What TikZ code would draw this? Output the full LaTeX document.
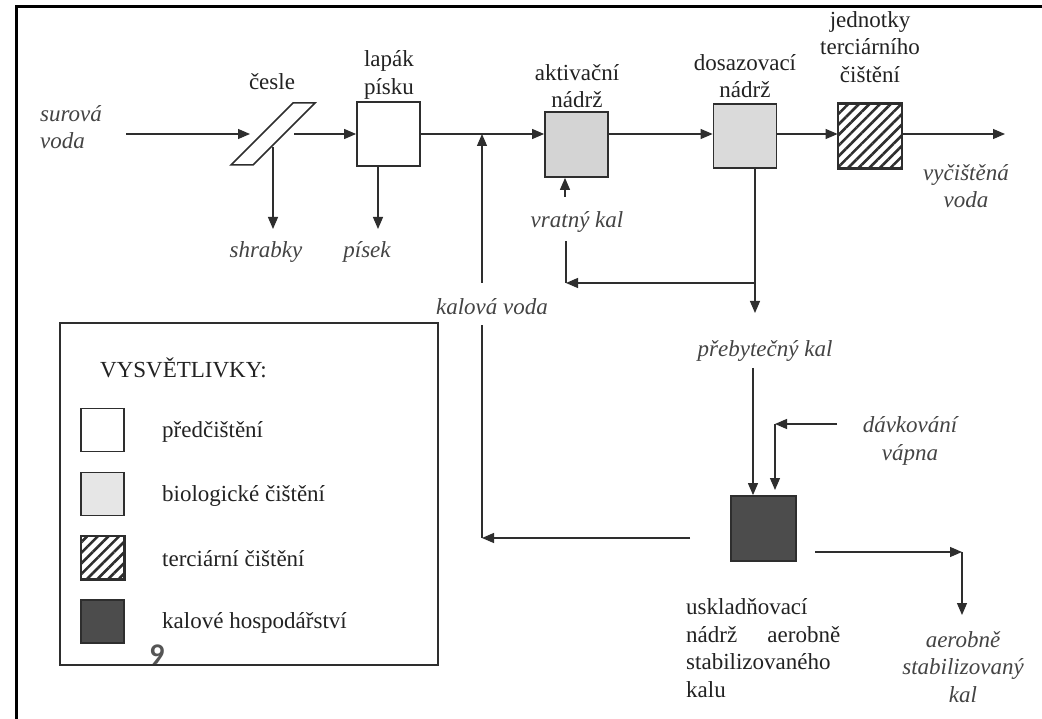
\documentclass[tikz,border=0pt]{standalone}
\usepackage{fontspec}
\setmainfont{Liberation Serif}
\newfontfamily\numfont{Carlito}
\usetikzlibrary{arrows.meta,patterns.meta}
\definecolor{linec}{HTML}{2E2E2E}
\definecolor{txtc}{HTML}{222222}
\definecolor{itc}{HTML}{444444}
\definecolor{biofill}{HTML}{D4D4D4}
\definecolor{biolight}{HTML}{E6E6E6}
\definecolor{sludge}{HTML}{4C4C4C}
\definecolor{numc}{HTML}{555555}
\begin{document}
\begin{tikzpicture}[x=1pt,y=-1pt,
  lbl/.style={font=\fontsize{23}{27.5}\selectfont, text=txtc, align=center, inner sep=0pt},
  ilbl/.style={font=\fontsize{23}{27.5}\selectfont\itshape, text=itc, align=center, inner sep=0pt},
  arr/.style={-{Triangle[length=12pt,width=10pt]}, line width=1.2pt, draw=linec},
  ln/.style={line width=1.2pt, draw=linec},
  unitbox/.style={draw=linec, line width=1.8pt, minimum width=63pt, minimum height=64pt, inner sep=0pt},
  legbox/.style={draw=linec, line width=1.5pt, minimum width=43pt, minimum height=43pt, inner sep=0pt},
  hatch/.style={pattern={Lines[angle=45,distance=7.5pt,line width=2.6pt]}, pattern color=linec}
]
\useasboundingbox (0,0) rectangle (1042,719);
\fill[white] (0,0) rectangle (1042,719);
% outer frame
\draw[line width=3pt, black] (16,719) -- (16,7) -- (1042,7);

% ---- process units
\node[unitbox, fill=white] (lapak) at (388.5,134) {};
\node[unitbox, fill=biofill, minimum height=65pt] (aktiv) at (576.5,144.5) {};
\node[unitbox, fill=biofill!85!white] (dosaz) at (745,136) {};
\node[unitbox, fill=white] (terc) at (870,136) {};
\fill[hatch] (terc.south west) rectangle (terc.north east);
\draw[linec, line width=1.8pt] (terc.south west) rectangle (terc.north east);
\node[unitbox, fill=sludge, minimum width=65pt, minimum height=65pt] (stor) at (763.5,528.5) {};

% screen (cesle)
\coordinate (c1) at (293,103);
\coordinate (c2) at (315,103);
\coordinate (c3) at (253,165);
\coordinate (c4) at (231,165);
\draw[linec, line width=1.5pt, fill=white] (c1) -- (c2) -- (c3) -- (c4) -- cycle;

% ---- labels
\node[ilbl, align=left, anchor=west] (raw) at (40,127) {surová\\voda};
\node[lbl] (lcesle) at (272,82) {česle};
\node[lbl] (llapak) at (389,75) {lapák\\písku};
\node[lbl] (laktiv) at (577,86) {aktivační\\nádrž};
\node[lbl] (ldosaz) at (745,76) {dosazovací\\nádrž};
\node[lbl] (lterc) at (870,47) {jednotky\\terciárního\\čištění};
\node[ilbl] (clean) at (966,186) {vyčištěná\\voda};
\node[ilbl] (shr) at (266,252) {shrabky};
\node[ilbl] (pis) at (367,252) {písek};
\node[ilbl] (vrat) at (577,222) {vratný kal};
\node[ilbl] (kv) at (492,307) {kalová voda};
\node[ilbl] (preb) at (765,351) {přebytečný kal};
\node[ilbl] (davk) at (910,441) {dávkování\\vápna};
\node[lbl, align=left, anchor=west] (lstor) at (686,648) {uskladňovací\\\hbox to 154pt{nádrž\hfill aerobně}\\stabilizovaného\\kalu};
\node[ilbl] (aer) at (963,667) {aerobně\\stabilizovaný\\kal};

% ---- coordinates for connectors
\coordinate (rawEnd) at (126,134);
\coordinate (cIn) at (250,134);
\coordinate (cOut) at (294,134);
\coordinate (cDown) at (273,147);
\coordinate (shrTip) at (273,229);
\coordinate (pisTip) at (378,229);
\coordinate (J) at (482,134);
\coordinate (kvTop) at (482,283);
\coordinate (kvBot) at (482,325);
\coordinate (kvCorner) at (482,538);
\coordinate (kvStart) at (690,538);
\coordinate (vratTop) at (566,241);
\coordinate (vratCorner) at (566,283);
\coordinate (retJ) at (755,283);
\coordinate (vratArrS) at (565,197);
\coordinate (dosOut) at (755,168);
\coordinate (excTip) at (755,313);
\coordinate (excStart) at (753,368);
\coordinate (limeStart) at (837,424);
\coordinate (limeCorner) at (775,424);
\coordinate (limeTip) at (775,490);
\coordinate (outStart) at (815,552);
\coordinate (outCorner) at (962,552);
\coordinate (outTip) at (962,615);
\coordinate (cleanTip) at (1005,134);

% ---- connectors
\draw[arr] (rawEnd) -- (cIn);
\draw[arr] (cOut) -- (lapak.west |- cOut);
\draw[arr] (cDown) -- (shrTip);
\draw[arr] (lapak.south -| pisTip) -- (pisTip);
\draw[arr] (lapak.east |- J) -- (aktiv.west |- J);
\draw[arr] (aktiv.east |- J) -- (dosaz.west |- J);
\draw[arr] (dosaz.east |- J) -- (terc.west |- J);
\draw[arr] (terc.east |- J) -- (cleanTip);
\draw[arr] (kvTop) -- (J);
\draw[ln] (kvCorner) -- (kvBot);
\draw[arr] (kvStart) -- (kvCorner);
\draw[arr] (retJ) -- (vratCorner);
\draw[ln] (vratCorner) -- (vratTop);
\draw[arr] (vratArrS) -- (aktiv.south -| vratArrS);
\draw[arr] (dosOut) -- (excTip);
\draw[arr] (excStart) -- (stor.north -| excStart);
\draw[arr] (limeStart) -- (limeCorner);
\draw[arr] (limeCorner) -- (limeTip);
\draw[arr] (outStart) -- (outCorner);
\draw[arr] (outCorner) -- (outTip);

% ---- legend
\draw[linec, line width=1.3pt] (60,323) rectangle (438,665);
\node[lbl, anchor=west] (legt) at (100,368) {VYSVĚTLIVKY:};
\node[legbox, fill=white] (lg1) at (102.5,430) {};
\node[legbox, fill=biolight] (lg2) at (102.5,494) {};
\node[legbox, fill=white] (lg3) at (102.5,557.5) {};
\fill[hatch] (lg3.south west) rectangle (lg3.north east);
\draw[linec, line width=1.5pt] (lg3.south west) rectangle (lg3.north east);
\node[legbox, fill=sludge] (lg4) at (102.5,621.5) {};
\node[lbl, anchor=west] (lt1) at (162,432) {předčištění};
\node[lbl, anchor=west] (lt2) at (162,496) {biologické čištění};
\node[lbl, anchor=west] (lt3) at (162,559) {terciární čištění};
\node[lbl, anchor=west] (lt4) at (162,623) {kalové hospodářství};
\node[font=\numfont\bfseries\fontsize{30}{30}\selectfont, text=numc, inner sep=0pt] (pg) at (157,655) {9};
\end{tikzpicture}
\end{document}
